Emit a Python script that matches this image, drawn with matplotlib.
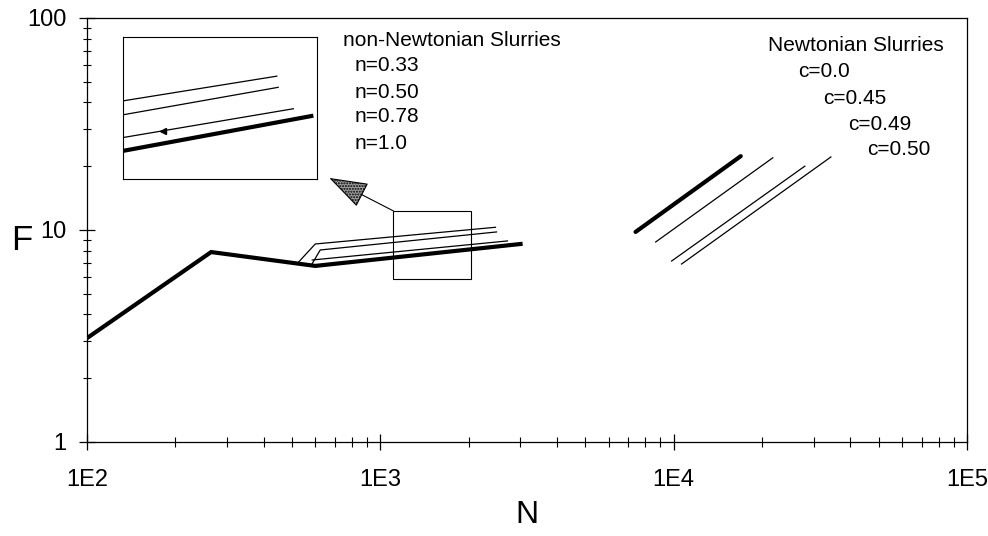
import numpy as np
import matplotlib
matplotlib.use("Agg")
import matplotlib.pyplot as plt
from matplotlib.ticker import FixedLocator, FuncFormatter, LogLocator, NullFormatter
from matplotlib.patches import Rectangle, FancyArrowPatch

plt.rcParams['font.family'] = ['Liberation Sans', 'DejaVu Sans']

# ---- data ----
# non-Newtonian slurries
N_n100 = [100, 265, 600, 3006]
F_n100 = [3.09, 7.87, 6.77, 8.59]
N_n033 = [521, 600, 2469]
F_n033 = [6.95, 8.59, 10.3]
N_n050 = [581, 624, 2489]
F_n050 = [6.81, 8.05, 9.79]
N_n078 = [586, 2713]
F_n078 = [7.22, 8.88]
# Newtonian slurries
N_c000 = [7413, 16930]
F_c000 = [9.79, 22.3]
N_c045 = [8683, 21770]
F_c045 = [8.78, 21.9]
N_c049 = [9840, 27990]
F_c049 = [7.14, 20.0]
N_c050 = [10640, 34350]
F_c050 = [6.91, 22.1]
# zoom box (N range, F range) and inset view limits
box_N = [1108, 2045]
box_F = [5.87, 12.3]
inset_N = [1028, 3105]
inset_F = [6.45, 12.31]
arrow_tip = [670, 17.6]
inset_arrow_N = 1291

xticks = [1e2, 1e3, 1e4, 1e5]
xticklabels = ['1E2', '1E3', '1E4', '1E5']
yticks = [1, 10, 100]
yticklabels = ['1', '10', '100']

non_newt_labels = ['n=0.33', 'n=0.50', 'n=0.78', 'n=1.0']
newt_labels = ['c=0.0', 'c=0.45', 'c=0.49', 'c=0.50']

W, H = 988, 536
fig = plt.figure(figsize=(W / 100, H / 100), dpi=100)
ax = fig.add_axes([87 / W, (H - 442) / H, 880 / W, 424 / H])
ax.set_xscale('log')
ax.set_yscale('log')
ax.set_xlim(1e2, 1e5)
ax.set_ylim(1, 100)

thick = 3.0
thin = 0.9
ax.plot(N_n100, F_n100, color='black', lw=thick, solid_joinstyle='miter')
ax.plot(N_n033, F_n033, color='black', lw=thin)
ax.plot(N_n050, F_n050, color='black', lw=thin)
ax.plot(N_n078, F_n078, color='black', lw=thin)
ax.plot(N_c000, F_c000, color='black', lw=thick, solid_capstyle='round')
ax.plot(N_c045, F_c045, color='black', lw=thin)
ax.plot(N_c049, F_c049, color='black', lw=thin)
ax.plot(N_c050, F_c050, color='black', lw=thin)

# zoom box
ax.add_patch(Rectangle((box_N[0], box_F[0]), box_N[1] - box_N[0], box_F[1] - box_F[0],
                       fill=False, edgecolor='black', lw=0.8))
# arrow from box to inset
arr = FancyArrowPatch((box_N[0], box_F[1]), tuple(arrow_tip),
                      arrowstyle='-|>,head_length=2.5,head_width=0.85', mutation_scale=10,
                      shrinkA=0, shrinkB=0, lw=0.8, edgecolor='black',
                      facecolor='#a0a0a0', hatch='......')
ax.add_patch(arr)

# ticks
ax.xaxis.set_major_locator(FixedLocator(xticks))
ax.xaxis.set_major_formatter(FuncFormatter(lambda v, p: xticklabels[xticks.index(v)] if v in xticks else ''))
ax.yaxis.set_major_locator(FixedLocator(yticks))
ax.yaxis.set_major_formatter(FuncFormatter(lambda v, p: yticklabels[yticks.index(v)] if v in yticks else ''))
ax.xaxis.set_minor_locator(LogLocator(base=10, subs=np.arange(2, 10)))
ax.yaxis.set_minor_locator(LogLocator(base=10, subs=np.arange(2, 10)))
ax.xaxis.set_minor_formatter(NullFormatter())
ax.yaxis.set_minor_formatter(NullFormatter())
ax.tick_params(axis='both', which='major', direction='inout', length=11, width=0.9, labelsize=17)
ax.tick_params(axis='x', which='major', pad=14)
ax.tick_params(axis='y', which='major', pad=9)
ax.tick_params(axis='x', which='minor', direction='inout', length=7, width=0.8)
ax.tick_params(axis='y', which='minor', direction='inout', length=6, width=0.8)
for s in ax.spines.values():
    s.set_linewidth(0.9)

# texts
fs = 15
ax.text(0.291, 0.948, 'non-Newtonian Slurries', transform=ax.transAxes, fontsize=fs, va='center', ha='left')
for lab, y in zip(non_newt_labels, [0.889, 0.825, 0.767, 0.705]):
    ax.text(0.3045, y, lab, transform=ax.transAxes, fontsize=fs, va='center', ha='left')
ax.text(0.774, 0.936, 'Newtonian Slurries', transform=ax.transAxes, fontsize=fs, va='center', ha='left')
for lab, x, y in zip(newt_labels, [0.808, 0.836, 0.865, 0.886], [0.873, 0.811, 0.75, 0.689]):
    ax.text(x, y, lab, transform=ax.transAxes, fontsize=fs, va='center', ha='left')

fig.text(527 / W, 1 - 515 / H, 'N', fontsize=23, ha='center', va='center')
fig.text(22 / W, 1 - 240 / H, 'F', fontsize=25, ha='center', va='center')

# inset (magnified view of the box)
ins = fig.add_axes([123 / W, (H - 179) / H, 194 / W, 142 / H])
ins.set_xscale('log')
ins.set_yscale('log')
ins.plot(N_n100, F_n100, color='black', lw=thick)
ins.plot(N_n033, F_n033, color='black', lw=thin)
ins.plot(N_n050, F_n050, color='black', lw=thin)
ins.plot(N_n078, F_n078, color='black', lw=thin)
yv = 10 ** np.interp(np.log10(inset_arrow_N), np.log10(N_n078), np.log10(F_n078))
ins.plot([inset_arrow_N], [yv], marker='<', color='black', ms=5)
ins.set_xlim(*inset_N)
ins.set_ylim(*inset_F)
ins.set_xticks([])
ins.set_yticks([])
ins.xaxis.set_minor_locator(plt.NullLocator())
ins.yaxis.set_minor_locator(plt.NullLocator())
for s in ins.spines.values():
    s.set_linewidth(0.8)

fig.savefig('out.png', dpi=100)
